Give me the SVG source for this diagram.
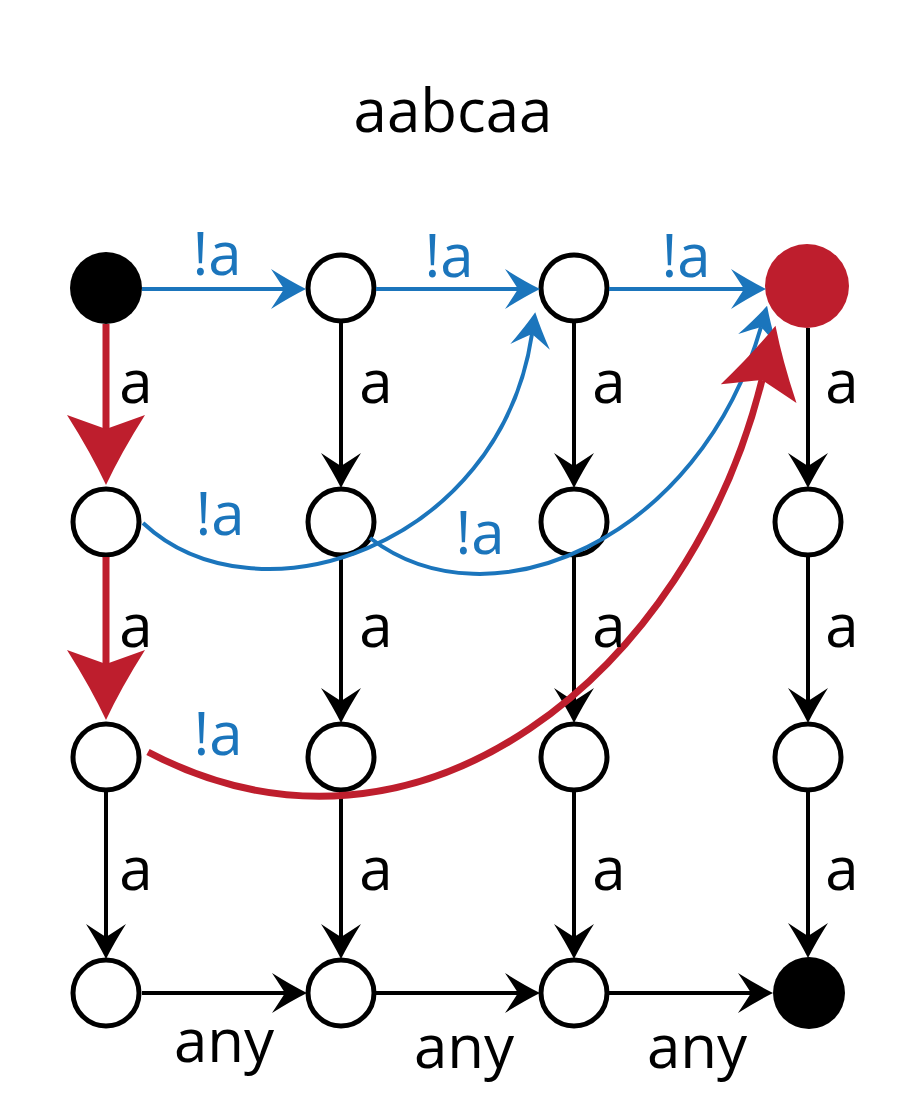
<svg xmlns="http://www.w3.org/2000/svg" width="905" height="1115" viewBox="0 0 905 1115">
<style>
.t{font-family:"Open Sans","Noto Sans","Liberation Sans",sans-serif;font-size:60px;text-anchor:middle}
.k{fill:#000}
.b{fill:#1b75bc}
.n{fill:#fff;stroke:#000;stroke-width:5}
.e{fill:none;stroke-width:4}
.ek{stroke:#000}
.eb{stroke:#1b75bc}
.er{stroke:#be1e2d;stroke-width:7}
</style>
<defs>
<marker id="mk" markerUnits="userSpaceOnUse" viewBox="0 -21 36 42" markerWidth="36" markerHeight="42" refX="13" refY="0" orient="auto" overflow="visible">
<path d="M35,0 Q19,-8 0,-20 Q8,-8 13,0 Q8,8 0,20 Q19,8 35,0Z" fill="#000"/>
</marker>
<marker id="mb" markerUnits="userSpaceOnUse" viewBox="0 -21 36 42" markerWidth="36" markerHeight="42" refX="13" refY="0" orient="auto" overflow="visible">
<path d="M35,0 Q19,-8 0,-20 Q8,-8 13,0 Q8,8 0,20 Q19,8 35,0Z" fill="#1b75bc"/>
</marker>
<marker id="mr" markerUnits="userSpaceOnUse" viewBox="0 -40 72 80" markerWidth="72" markerHeight="80" refX="14" refY="0" orient="auto" overflow="visible">
<path d="M70,0 Q38,-15 0,-39 Q9,-14 14,0 Q9,14 0,39 Q38,15 70,0Z" fill="#be1e2d"/>
</marker>
</defs>
<rect width="905" height="1115" fill="#fff"/>
<text class="t k" x="453" y="132">aabcaa</text>
<g id="nodes">
<g id="n00"><circle cx="106" cy="288" r="36" fill="#000"/></g>
<g id="n01"><circle class="n" cx="341" cy="288" r="33"/></g>
<g id="n02"><circle class="n" cx="574" cy="288" r="33"/></g>
<g id="n03"><circle cx="807" cy="286" r="42" fill="#be1e2d"/></g>
<g id="n10"><circle class="n" cx="106" cy="522" r="33"/></g>
<g id="n11"><circle class="n" cx="341" cy="522" r="33"/></g>
<g id="n12"><circle class="n" cx="574" cy="522" r="33"/></g>
<g id="n13"><circle class="n" cx="808" cy="522" r="33"/></g>
<g id="n20"><circle class="n" cx="106" cy="757" r="33"/></g>
<g id="n21"><circle class="n" cx="341" cy="757" r="33"/></g>
<g id="n22"><circle class="n" cx="574" cy="757" r="33"/></g>
<g id="n23"><circle class="n" cx="808" cy="757" r="33"/></g>
<g id="n30"><circle class="n" cx="106" cy="993" r="33"/></g>
<g id="n31"><circle class="n" cx="341" cy="993" r="33"/></g>
<g id="n32"><circle class="n" cx="574" cy="993" r="33"/></g>
<g id="n33"><circle cx="809" cy="993" r="36" fill="#000"/></g>
</g>
<g id="connectors">
<path class="e eb" d="M142,289 H284" marker-end="url(#mb)"/>
<path class="e eb" d="M376,289 H518" marker-end="url(#mb)"/>
<path class="e eb" d="M609,289 H744" marker-end="url(#mb)"/>
<path class="e er" d="M106,324 V429" marker-end="url(#mr)"/>
<path class="e er" d="M106,557 V664" marker-end="url(#mr)"/>
<path class="e ek" d="M106,792 V937" marker-end="url(#mk)"/>
<path class="e ek" d="M341,323 V466" marker-end="url(#mk)"/>
<path class="e ek" d="M341,557 V701" marker-end="url(#mk)"/>
<path class="e ek" d="M341,792 V937" marker-end="url(#mk)"/>
<path class="e ek" d="M574,323 V466" marker-end="url(#mk)"/>
<path class="e ek" d="M574,557 V701" marker-end="url(#mk)"/>
<path class="e ek" d="M574,792 V937" marker-end="url(#mk)"/>
<path class="e ek" d="M808,328 V466" marker-end="url(#mk)"/>
<path class="e ek" d="M808,557 V701" marker-end="url(#mk)"/>
<path class="e ek" d="M808,792 V936" marker-end="url(#mk)"/>
<path class="e ek" d="M142,993 H285" marker-end="url(#mk)"/>
<path class="e ek" d="M376,993 H518" marker-end="url(#mk)"/>
<path class="e ek" d="M609,993 H751" marker-end="url(#mk)"/>
<path class="e eb" d="M143,523 C255,628 500,548 532,334" marker-end="url(#mb)"/>
<path class="e eb" d="M370,538 C490,630 700,540 761,327" marker-end="url(#mb)"/>
<path class="e er" d="M148,752 C420,895 690,670 762,380" marker-end="url(#mr)"/>
</g>
<g id="labels">
<text class="t b" x="217" y="275">!a</text>
<text class="t b" x="449" y="277">!a</text>
<text class="t b" x="686" y="277">!a</text>
<text class="t b" x="220" y="535">!a</text>
<text class="t b" x="480" y="554">!a</text>
<text class="t b" x="218" y="755">!a</text>
<text class="t k" x="136" y="403">a</text>
<text class="t k" x="376" y="403">a</text>
<text class="t k" x="609" y="403">a</text>
<text class="t k" x="842" y="403">a</text>
<text class="t k" x="136" y="647">a</text>
<text class="t k" x="376" y="647">a</text>
<text class="t k" x="609" y="647">a</text>
<text class="t k" x="842" y="647">a</text>
<text class="t k" x="136" y="890">a</text>
<text class="t k" x="376" y="890">a</text>
<text class="t k" x="609" y="890">a</text>
<text class="t k" x="842" y="890">a</text>
<text class="t k" x="224" y="1062">any</text>
<text class="t k" x="464" y="1068">any</text>
<text class="t k" x="697" y="1068">any</text>
</g>
</svg>
